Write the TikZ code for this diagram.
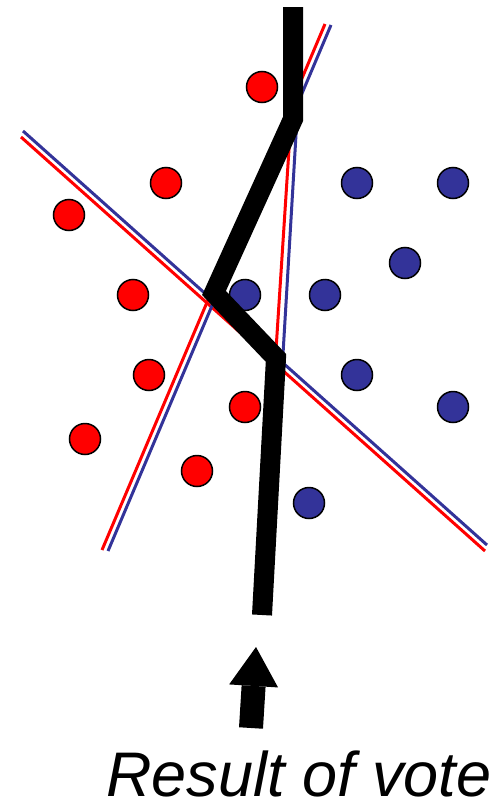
\documentclass[tikz,border=0pt]{standalone}
\usepackage{fontspec}
\setmainfont{Liberation Sans}
\usetikzlibrary{arrows.meta}
\definecolor{vblue}{RGB}{51,51,153}
\begin{document}
\begin{tikzpicture}[x=1pt,y=-1pt,
  dot/.style={circle,draw=black,line width=1.5pt,minimum size=31pt,inner sep=0pt},
  rdot/.style={dot,fill=red},
  bdot/.style={dot,fill=vblue},
  rln/.style={draw=red,line width=3pt},
  bln/.style={draw=vblue,line width=3pt},
  voteln/.style={draw=black,line width=20pt,line join=miter},
  votearr/.style={draw=black,line width=24pt,-{Triangle[length=39pt,width=49pt,line width=0pt]}}]
  \useasboundingbox (0,0) rectangle (500,803);
  % single classifiers, each drawn twice
  \draw[rln] (21,137) -- (485,551);
  \draw[bln] (23,131) -- (487,545);
  \draw[rln] (102,550) -- (325,24);
  \draw[bln] (108,551) -- (331,25);
  \draw[rln] (291,118) -- (276,350);
  \draw[bln] (297,118) -- (283,354);
  % samples
  \foreach \x/\y [count=\i] in {262/87,166/183,69/215,133/295,149/375,245/407,85/439,197/471}
    \node[rdot] (r\i) at (\x,\y) {};
  \foreach \x/\y [count=\i] in {357/183,453/183,405/263,245/295,325/295,357/375,453/407,309/503}
    \node[bdot] (b\i) at (\x,\y) {};
  % boundary after the vote
  \coordinate (v0) at (293,7);
  \coordinate (v1) at (293,119);
  \coordinate (v2) at (214,293);
  \coordinate (v3) at (276,358);
  \coordinate (v4) at (262,615);
  \draw[voteln] (v0) -- (v1) -- (v2) -- (v3) -- (v4);
  \node[font=\itshape\fontsize{63}{63}\selectfont,anchor=base west,inner sep=0pt] (lbl) at (106,796) {Result of vote};
  \coordinate (tail) at (251,728);
  \coordinate (tip) at (256,647);
  \draw[votearr] (tail) -- (tip);
\end{tikzpicture}
\end{document}
